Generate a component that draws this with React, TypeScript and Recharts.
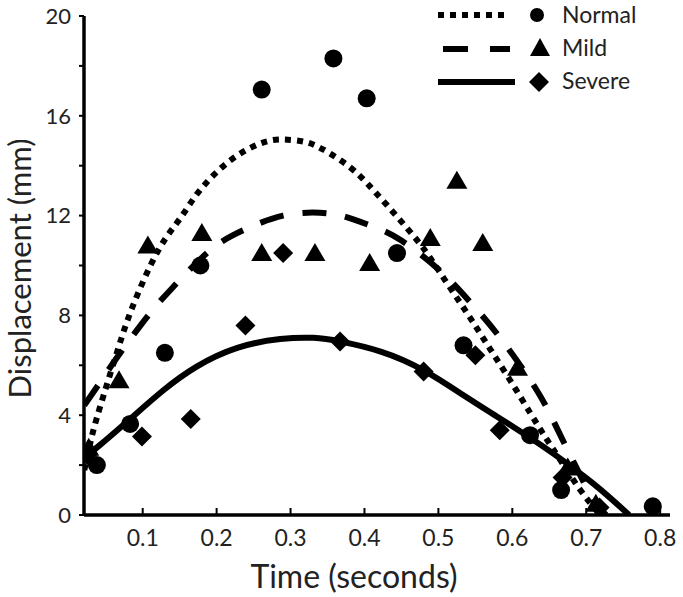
import { ComposedChart, Line, Scatter, XAxis, YAxis, Legend } from "recharts";

// tick positions
const xTicks = [0.1, 0.2, 0.3, 0.4, 0.5, 0.6, 0.7, 0.8];
const yTicks = [0, 2, 4, 6, 8, 10, 12, 14, 16, 18, 20];

// measured points
const normalX = [0.038, 0.083, 0.13, 0.178, 0.261, 0.358, 0.403, 0.444, 0.534, 0.624, 0.666, 0.79];
const normalY = [2.0, 3.65, 6.5, 10.0, 17.05, 18.3, 16.7, 10.5, 6.8, 3.2, 1.0, 0.35];

const mildX = [0.027, 0.068, 0.107, 0.18, 0.261, 0.333, 0.407, 0.489, 0.525, 0.56, 0.607, 0.675, 0.713];
const mildY = [2.7, 5.4, 10.8, 11.3, 10.5, 10.5, 10.1, 11.1, 13.4, 10.9, 5.9, 1.9, 0.45];

const severeX = [0.025, 0.099, 0.165, 0.239, 0.29, 0.367, 0.48, 0.55, 0.583, 0.668, 0.718];
const severeY = [2.4, 3.15, 3.85, 7.6, 10.5, 6.95, 5.75, 6.4, 3.4, 1.5, 0.3];

// trend curves
const normalFitX = [0.021, 0.03, 0.042, 0.065, 0.087, 0.121, 0.151, 0.177, 0.218, 0.26, 0.29, 0.32, 0.344, 0.38, 0.408, 0.431, 0.466, 0.489, 0.516, 0.543, 0.57, 0.597, 0.624, 0.645, 0.665, 0.692, 0.719];
const normalFitY = [1.8, 3.0, 4.3, 6.5, 8.4, 10.6, 11.9, 13.0, 14.2, 14.9, 15.05, 14.95, 14.65, 13.95, 13.15, 12.4, 11.2, 10.3, 9.1, 7.9, 6.65, 5.4, 4.1, 3.1, 2.2, 1.0, 0];

const mildFitX = [0.021, 0.042, 0.065, 0.092, 0.113, 0.14, 0.187, 0.221, 0.25, 0.29, 0.33, 0.36, 0.385, 0.417, 0.45, 0.5, 0.541, 0.581, 0.631, 0.66, 0.685, 0.71, 0.727];
const mildFitY = [4.4, 5.3, 6.3, 7.4, 8.2, 9.1, 10.5, 11.2, 11.6, 12.0, 12.12, 12.05, 11.85, 11.5, 11.0, 9.85, 8.6, 7.2, 5.1, 3.5, 2.0, 0.6, 0];

const severeFitX = [0.021, 0.042, 0.083, 0.128, 0.173, 0.228, 0.286, 0.331, 0.368, 0.422, 0.48, 0.534, 0.579, 0.624, 0.656, 0.71, 0.758];
const severeFitY = [2.3, 2.8, 3.85, 5.0, 5.95, 6.7, 7.05, 7.1, 6.95, 6.55, 5.8, 4.8, 3.95, 3.1, 2.45, 1.25, 0];

const toPoints = (xs: number[], ys: number[]) => xs.map((x, i) => ({ x, y: ys[i] }));

const FONT = "Lato, 'Open Sans', sans-serif";
const TEXT = "#222";

const CircleShape = (p: any) => <circle cx={p.cx} cy={p.cy} r={9} fill="#000" />;
const TriangleShape = (p: any) => (
  <path d={`M${p.cx},${p.cy - 10}L${p.cx + 10.5},${p.cy + 8}L${p.cx - 10.5},${p.cy + 8}Z`} fill="#000" />
);
const DiamondShape = (p: any) => (
  <path d={`M${p.cx},${p.cy - 10}L${p.cx + 10},${p.cy}L${p.cx},${p.cy + 10}L${p.cx - 10},${p.cy}Z`} fill="#000" />
);

const XTick = ({ x, y, payload }: any) => (
  <g>
    <line x1={x} x2={x} y1={y} y2={y - 7} stroke="#000" strokeWidth={2} />
    <text x={x} y={y + 31} textAnchor="middle" fontSize={23} fontFamily={FONT} fill={TEXT}>
      {payload.value}
    </text>
  </g>
);

const LegendContent = () => (
  <svg width={260} height={95} style={{ overflow: "visible" }}>
    <line x1={8} x2={78} y1={13} y2={13} stroke="#000" strokeWidth={6} strokeDasharray="6 6" />
    <circle cx={107} cy={13} r={7} fill="#000" />
    <text x={132} y={21} fontSize={23} fontFamily={FONT} fill={TEXT}>Normal</text>

    <line x1={13} x2={80} y1={47} y2={47} stroke="#000" strokeWidth={6} strokeDasharray="25 22" />
    <path d="M110,36L120,54L100,54Z" fill="#000" />
    <text x={132} y={54} fontSize={23} fontFamily={FONT} fill={TEXT}>Mild</text>

    <line x1={8} x2={85} y1={80} y2={80} stroke="#000" strokeWidth={6} />
    <path d="M109,70L119,80L109,90L99,80Z" fill="#000" />
    <text x={132} y={87} fontSize={23} fontFamily={FONT} fill={TEXT}>Severe</text>
  </svg>
);

export default function App() {
  return (
    <div style={{ position: "absolute", left: 0, top: 0, background: "#fff" }}>
      <ComposedChart width={683} height={597} margin={{ top: 16, right: 13, bottom: 22, left: 0 }}>
        <XAxis
          type="number"
          dataKey="x"
          domain={[0.0206, 0.8133]}
          allowDataOverflow
          ticks={xTicks}
          tick={<XTick />}
          tickLine={false}
          tickSize={0}
          tickMargin={0}
          axisLine={{ stroke: "#000", strokeWidth: 3.5 }}
          height={60}
          label={{
            content: ({ viewBox }: any) => (
              <text
                x={viewBox.x + viewBox.width / 2 - 23}
                y={viewBox.y + 73}
                textAnchor="middle"
                fontSize={32}
                fontFamily={FONT}
                fill={TEXT}
              >
                Time (seconds)
              </text>
            ),
          }}
        />
        <YAxis
          type="number"
          dataKey="y"
          domain={[0, 20]}
          allowDataOverflow
          ticks={yTicks}
          interval={0}
          tickFormatter={(v: number) => (v % 4 === 0 ? String(v) : "")}
          tick={{ fontSize: 22, fontFamily: FONT, fill: TEXT }}
          tickSize={5}
          tickMargin={8}
          tickLine={{ stroke: "#000", strokeWidth: 2 }}
          axisLine={{ stroke: "#000", strokeWidth: 3.5 }}
          width={84}
          label={{
            content: ({ viewBox }: any) => (
              <text
                x={31}
                y={viewBox.y + viewBox.height / 2 + 3}
                transform={`rotate(-90, 31, ${viewBox.y + viewBox.height / 2 + 3})`}
                textAnchor="middle"
                fontSize={31}
                fontFamily={FONT}
                fill={TEXT}
              >
                Displacement (mm)
              </text>
            ),
          }}
        />
        <Legend
          layout="horizontal"
          verticalAlign="middle"
          align="center"
          content={<LegendContent />}
          wrapperStyle={{ left: 430, top: 2, width: 260, height: 95 }}
        />
        <Line
          data={toPoints(normalFitX, normalFitY)}
          dataKey="y"
          type="natural"
          stroke="#000"
          strokeWidth={6}
          strokeDasharray="6 6"
          dot={false}
          activeDot={false}
          isAnimationActive={false}
        />
        <Line
          data={toPoints(mildFitX, mildFitY)}
          dataKey="y"
          type="natural"
          stroke="#000"
          strokeWidth={6}
          strokeDasharray="24 19"
          dot={false}
          activeDot={false}
          isAnimationActive={false}
        />
        <Line
          data={toPoints(severeFitX, severeFitY)}
          dataKey="y"
          type="natural"
          stroke="#000"
          strokeWidth={6}
          dot={false}
          activeDot={false}
          isAnimationActive={false}
        />
        <Scatter data={toPoints(normalX, normalY)} dataKey="y" shape={<CircleShape />} isAnimationActive={false} />
        <Scatter data={toPoints(mildX, mildY)} dataKey="y" shape={<TriangleShape />} isAnimationActive={false} />
        <Scatter data={toPoints(severeX, severeY)} dataKey="y" shape={<DiamondShape />} isAnimationActive={false} />
      </ComposedChart>
    </div>
  );
}
